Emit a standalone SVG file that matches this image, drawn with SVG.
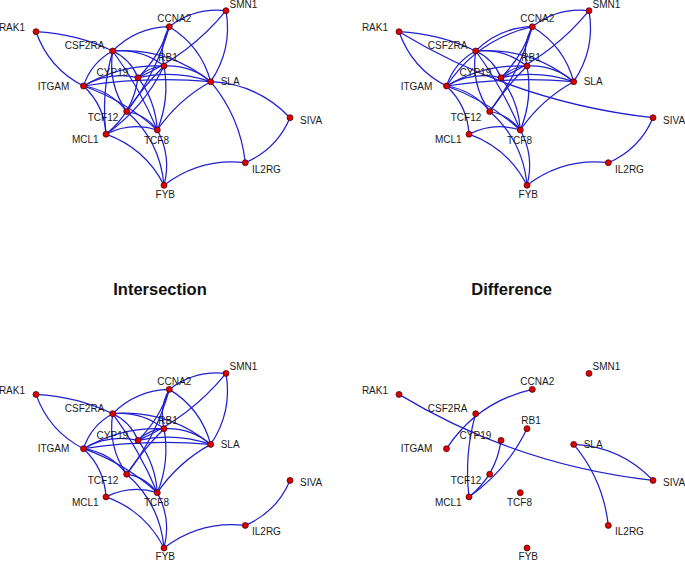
<svg xmlns="http://www.w3.org/2000/svg" width="685" height="561" viewBox="0 0 685 561">
<style>
.e{fill:none;stroke:#2020d2;stroke-width:1.25}
.n circle{fill:#dc0000;stroke:#3a0000;stroke-width:0.7}
.n text{font-family:"Liberation Sans",Arial,sans-serif;font-size:10px;fill:#1a1a1a}
.s{text-anchor:start}.m{text-anchor:middle}.x{text-anchor:end}
.t{font-family:"Liberation Sans",Arial,sans-serif;font-size:16.5px;font-weight:bold;fill:#111;text-anchor:middle}
</style>
<rect width="685" height="561" fill="#fff"/>
<text class="t" x="160" y="295">Intersection</text>
<text class="t" x="511.7" y="295">Difference</text>

<!-- Panel 1: top-left -->
<g id="panel1">
<g id="p1-connectors">
<path class="e" d="M36,31.7 Q76.3,33.7 112.7,51"/>
<path class="e" d="M83.5,86 Q48.9,68.4 36,31.7"/>
<path class="e" d="M112.7,51 Q136.1,27.5 169.3,26.7"/>
<path class="e" d="M169.3,26.7 Q194.5,7.4 226,10.7"/>
<path class="e" d="M226,10.7 Q232.6,49.3 210.7,81.7"/>
<path class="e" d="M169.3,26.7 Q201,45.9 210.7,81.7"/>
<path class="e" d="M226,10.7 Q190,54.8 138,77.7"/>
<path class="e" d="M169.3,26.7 Q159.8,56 138,77.7"/>
<path class="e" d="M164,66 Q158.8,45.3 169.3,26.7"/>
<path class="e" d="M169.3,26.7 Q156.5,73.4 126.7,111.5"/>
<path class="e" d="M112.7,51 Q167.8,46.8 210.7,81.7"/>
<path class="e" d="M112.7,51 Q141.4,48.2 164,66"/>
<path class="e" d="M164,66 Q190.5,64.5 210.7,81.7"/>
<path class="e" d="M112.7,51 Q130.7,59.3 138,77.7"/>
<path class="e" d="M83.5,86 Q91.1,62.7 112.7,51"/>
<path class="e" d="M126.7,111.5 Q107.6,84.1 112.7,51"/>
<path class="e" d="M112.7,51 Q139.7,87.8 157.3,130"/>
<path class="e" d="M138,77.7 Q148.7,66.7 164,66"/>
<path class="e" d="M138,77.7 Q174.9,69.5 210.7,81.7"/>
<path class="e" d="M83.5,86 Q109.1,71 138,77.7"/>
<path class="e" d="M83.5,86 Q120.8,63.9 164,66"/>
<path class="e" d="M83.5,86 Q146.8,76.2 210.7,81.7"/>
<path class="e" d="M83.5,86 Q110.2,90.1 126.7,111.5"/>
<path class="e" d="M83.5,86 Q124.8,100.6 157.3,130"/>
<path class="e" d="M83.5,86 Q104.4,105.6 106,134.2"/>
<path class="e" d="M126.7,111.5 Q145.7,114.6 157.3,130"/>
<path class="e" d="M126.7,111.5 Q143,86.9 164,66"/>
<path class="e" d="M164,66 Q170,99.3 157.3,130"/>
<path class="e" d="M138,77.7 Q155.5,101 157.3,130"/>
<path class="e" d="M157.3,130 Q178.2,99.5 210.7,81.7"/>
<path class="e" d="M106,134.2 Q130.8,121.8 157.3,130"/>
<path class="e" d="M106,134.2 Q145.2,148.2 164,185.3"/>
<path class="e" d="M126.7,111.5 Q160.1,140.9 164,185.3"/>
<path class="e" d="M157.3,130 Q171.7,156.3 164,185.3"/>
<path class="e" d="M164,185.3 Q200.1,157.7 245.3,162.7"/>
<path class="e" d="M290,117.7 Q276.7,149.1 245.3,162.7"/>
<path class="e" d="M210.7,81.7 Q257.6,83.8 290,117.7"/>
<path class="e" d="M210.7,81.7 Q240.2,117 245.3,162.7"/>
<path class="e" d="M106,134.2 Q101,92 112.7,51"/>
<path class="e" d="M138,77.7 Q133.3,112.4 106,134.2"/>
<path class="e" d="M164,66 Q143.9,107.6 106,134.2"/>
</g>
<g id="p1-RAK1" class="n"><circle cx="36" cy="31.7" r="3"/><text class="x" x="25" y="31.3">RAK1</text></g>
<g id="p1-SMN1" class="n"><circle cx="226" cy="10.7" r="3"/><text class="s" x="229.5" y="7.5">SMN1</text></g>
<g id="p1-CCNA2" class="n"><circle cx="169.3" cy="26.7" r="3"/><text class="m" x="174.3" y="22">CCNA2</text></g>
<g id="p1-CSF2RA" class="n"><circle cx="112.7" cy="51" r="3"/><text class="x" x="104.3" y="49.3">CSF2RA</text></g>
<g id="p1-RB1" class="n"><circle cx="164" cy="66" r="3"/><text class="m" x="168" y="61">RB1</text></g>
<g id="p1-CYP19" class="n"><circle cx="138" cy="77.7" r="3"/><text class="x" x="128.3" y="76.3">CYP19</text></g>
<g id="p1-SLA" class="n"><circle cx="210.7" cy="81.7" r="3"/><text class="s" x="220.7" y="85.3">SLA</text></g>
<g id="p1-ITGAM" class="n"><circle cx="83.5" cy="86" r="3"/><text class="x" x="69.3" y="89.6">ITGAM</text></g>
<g id="p1-TCF12" class="n"><circle cx="126.7" cy="111.5" r="3"/><text class="x" x="118.3" y="121">TCF12</text></g>
<g id="p1-SIVA" class="n"><circle cx="290" cy="117.7" r="3"/><text class="s" x="300" y="123.6">SIVA</text></g>
<g id="p1-TCF8" class="n"><circle cx="157.3" cy="130" r="3"/><text class="m" x="156.5" y="143.6">TCF8</text></g>
<g id="p1-MCL1" class="n"><circle cx="106" cy="134.2" r="3"/><text class="x" x="98.7" y="143">MCL1</text></g>
<g id="p1-IL2RG" class="n"><circle cx="245.3" cy="162.7" r="3"/><text class="s" x="252" y="172.6">IL2RG</text></g>
<g id="p1-FYB" class="n"><circle cx="164" cy="185.3" r="3"/><text class="m" x="165.3" y="197.6">FYB</text></g>
</g>

<!-- Panel 2: top-right -->
<g id="panel2" transform="translate(363,0)">
<g id="p2-connectors">
<path class="e" d="M36,31.7 Q76.3,33.7 112.7,51"/>
<path class="e" d="M83.5,86 Q48.9,68.4 36,31.7"/>
<path class="e" d="M112.7,51 Q136.1,27.5 169.3,26.7"/>
<path class="e" d="M169.3,26.7 Q194.5,7.4 226,10.7"/>
<path class="e" d="M226,10.7 Q232.6,49.3 210.7,81.7"/>
<path class="e" d="M169.3,26.7 Q201,45.9 210.7,81.7"/>
<path class="e" d="M226,10.7 Q190,54.8 138,77.7"/>
<path class="e" d="M169.3,26.7 Q159.8,56 138,77.7"/>
<path class="e" d="M164,66 Q158.8,45.3 169.3,26.7"/>
<path class="e" d="M169.3,26.7 Q156.5,73.4 126.7,111.5"/>
<path class="e" d="M112.7,51 Q167.8,46.8 210.7,81.7"/>
<path class="e" d="M112.7,51 Q141.4,48.2 164,66"/>
<path class="e" d="M164,66 Q190.5,64.5 210.7,81.7"/>
<path class="e" d="M112.7,51 Q130.7,59.3 138,77.7"/>
<path class="e" d="M83.5,86 Q91.1,62.7 112.7,51"/>
<path class="e" d="M126.7,111.5 Q107.6,84.1 112.7,51"/>
<path class="e" d="M112.7,51 Q139.7,87.8 157.3,130"/>
<path class="e" d="M138,77.7 Q148.7,66.7 164,66"/>
<path class="e" d="M138,77.7 Q174.9,69.5 210.7,81.7"/>
<path class="e" d="M83.5,86 Q109.1,71 138,77.7"/>
<path class="e" d="M83.5,86 Q120.8,63.9 164,66"/>
<path class="e" d="M83.5,86 Q146.8,76.2 210.7,81.7"/>
<path class="e" d="M83.5,86 Q110.2,90.1 126.7,111.5"/>
<path class="e" d="M83.5,86 Q124.8,100.6 157.3,130"/>
<path class="e" d="M83.5,86 Q104.4,105.6 106,134.2"/>
<path class="e" d="M126.7,111.5 Q145.7,114.6 157.3,130"/>
<path class="e" d="M126.7,111.5 Q143,86.9 164,66"/>
<path class="e" d="M164,66 Q170,99.3 157.3,130"/>
<path class="e" d="M138,77.7 Q155.5,101 157.3,130"/>
<path class="e" d="M157.3,130 Q178.2,99.5 210.7,81.7"/>
<path class="e" d="M106,134.2 Q130.8,121.8 157.3,130"/>
<path class="e" d="M106,134.2 Q145.2,148.2 164,185.3"/>
<path class="e" d="M126.7,111.5 Q160.1,140.9 164,185.3"/>
<path class="e" d="M157.3,130 Q171.7,156.3 164,185.3"/>
<path class="e" d="M164,185.3 Q200.1,157.7 245.3,162.7"/>
<path class="e" d="M290,117.7 Q276.7,149.1 245.3,162.7"/>
<path class="e" d="M290,117.7 Q153.5,102.6 36,31.7"/>
<path class="e" d="M83.5,86 Q114.5,39.2 169.3,26.7"/>
</g>
<g id="p2-RAK1" class="n"><circle cx="36" cy="31.7" r="3"/><text class="x" x="25" y="31.3">RAK1</text></g>
<g id="p2-SMN1" class="n"><circle cx="226" cy="10.7" r="3"/><text class="s" x="229.5" y="7.5">SMN1</text></g>
<g id="p2-CCNA2" class="n"><circle cx="169.3" cy="26.7" r="3"/><text class="m" x="174.3" y="22">CCNA2</text></g>
<g id="p2-CSF2RA" class="n"><circle cx="112.7" cy="51" r="3"/><text class="x" x="104.3" y="49.3">CSF2RA</text></g>
<g id="p2-RB1" class="n"><circle cx="164" cy="66" r="3"/><text class="m" x="168" y="61">RB1</text></g>
<g id="p2-CYP19" class="n"><circle cx="138" cy="77.7" r="3"/><text class="x" x="128.3" y="76.3">CYP19</text></g>
<g id="p2-SLA" class="n"><circle cx="210.7" cy="81.7" r="3"/><text class="s" x="220.7" y="85.3">SLA</text></g>
<g id="p2-ITGAM" class="n"><circle cx="83.5" cy="86" r="3"/><text class="x" x="69.3" y="89.6">ITGAM</text></g>
<g id="p2-TCF12" class="n"><circle cx="126.7" cy="111.5" r="3"/><text class="x" x="118.3" y="121">TCF12</text></g>
<g id="p2-SIVA" class="n"><circle cx="290" cy="117.7" r="3"/><text class="s" x="300" y="123.6">SIVA</text></g>
<g id="p2-TCF8" class="n"><circle cx="157.3" cy="130" r="3"/><text class="m" x="156.5" y="143.6">TCF8</text></g>
<g id="p2-MCL1" class="n"><circle cx="106" cy="134.2" r="3"/><text class="x" x="98.7" y="143">MCL1</text></g>
<g id="p2-IL2RG" class="n"><circle cx="245.3" cy="162.7" r="3"/><text class="s" x="252" y="172.6">IL2RG</text></g>
<g id="p2-FYB" class="n"><circle cx="164" cy="185.3" r="3"/><text class="m" x="165.3" y="197.6">FYB</text></g>
</g>

<!-- Panel 3: Intersection -->
<g id="panel3" transform="translate(0,362.7)">
<g id="p3-connectors">
<path class="e" d="M36,31.7 Q76.3,33.7 112.7,51"/>
<path class="e" d="M83.5,86 Q48.9,68.4 36,31.7"/>
<path class="e" d="M112.7,51 Q136.1,27.5 169.3,26.7"/>
<path class="e" d="M169.3,26.7 Q194.5,7.4 226,10.7"/>
<path class="e" d="M226,10.7 Q232.6,49.3 210.7,81.7"/>
<path class="e" d="M169.3,26.7 Q201,45.9 210.7,81.7"/>
<path class="e" d="M226,10.7 Q190,54.8 138,77.7"/>
<path class="e" d="M169.3,26.7 Q159.8,56 138,77.7"/>
<path class="e" d="M164,66 Q158.8,45.3 169.3,26.7"/>
<path class="e" d="M169.3,26.7 Q156.5,73.4 126.7,111.5"/>
<path class="e" d="M112.7,51 Q167.8,46.8 210.7,81.7"/>
<path class="e" d="M112.7,51 Q141.4,48.2 164,66"/>
<path class="e" d="M164,66 Q190.5,64.5 210.7,81.7"/>
<path class="e" d="M112.7,51 Q130.7,59.3 138,77.7"/>
<path class="e" d="M83.5,86 Q91.1,62.7 112.7,51"/>
<path class="e" d="M126.7,111.5 Q107.6,84.1 112.7,51"/>
<path class="e" d="M112.7,51 Q139.7,87.8 157.3,130"/>
<path class="e" d="M138,77.7 Q148.7,66.7 164,66"/>
<path class="e" d="M138,77.7 Q174.9,69.5 210.7,81.7"/>
<path class="e" d="M83.5,86 Q109.1,71 138,77.7"/>
<path class="e" d="M83.5,86 Q120.8,63.9 164,66"/>
<path class="e" d="M83.5,86 Q146.8,76.2 210.7,81.7"/>
<path class="e" d="M83.5,86 Q110.2,90.1 126.7,111.5"/>
<path class="e" d="M83.5,86 Q124.8,100.6 157.3,130"/>
<path class="e" d="M83.5,86 Q104.4,105.6 106,134.2"/>
<path class="e" d="M126.7,111.5 Q145.7,114.6 157.3,130"/>
<path class="e" d="M126.7,111.5 Q143,86.9 164,66"/>
<path class="e" d="M164,66 Q170,99.3 157.3,130"/>
<path class="e" d="M138,77.7 Q155.5,101 157.3,130"/>
<path class="e" d="M157.3,130 Q178.2,99.5 210.7,81.7"/>
<path class="e" d="M106,134.2 Q130.8,121.8 157.3,130"/>
<path class="e" d="M106,134.2 Q145.2,148.2 164,185.3"/>
<path class="e" d="M126.7,111.5 Q160.1,140.9 164,185.3"/>
<path class="e" d="M157.3,130 Q171.7,156.3 164,185.3"/>
<path class="e" d="M164,185.3 Q200.1,157.7 245.3,162.7"/>
<path class="e" d="M290,117.7 Q276.7,149.1 245.3,162.7"/>
</g>
<g id="p3-RAK1" class="n"><circle cx="36" cy="31.7" r="3"/><text class="x" x="25" y="31.3">RAK1</text></g>
<g id="p3-SMN1" class="n"><circle cx="226" cy="10.7" r="3"/><text class="s" x="229.5" y="7.5">SMN1</text></g>
<g id="p3-CCNA2" class="n"><circle cx="169.3" cy="26.7" r="3"/><text class="m" x="174.3" y="22">CCNA2</text></g>
<g id="p3-CSF2RA" class="n"><circle cx="112.7" cy="51" r="3"/><text class="x" x="104.3" y="49.3">CSF2RA</text></g>
<g id="p3-RB1" class="n"><circle cx="164" cy="66" r="3"/><text class="m" x="168" y="61">RB1</text></g>
<g id="p3-CYP19" class="n"><circle cx="138" cy="77.7" r="3"/><text class="x" x="128.3" y="76.3">CYP19</text></g>
<g id="p3-SLA" class="n"><circle cx="210.7" cy="81.7" r="3"/><text class="s" x="220.7" y="85.3">SLA</text></g>
<g id="p3-ITGAM" class="n"><circle cx="83.5" cy="86" r="3"/><text class="x" x="69.3" y="89.6">ITGAM</text></g>
<g id="p3-TCF12" class="n"><circle cx="126.7" cy="111.5" r="3"/><text class="x" x="118.3" y="121">TCF12</text></g>
<g id="p3-SIVA" class="n"><circle cx="290" cy="117.7" r="3"/><text class="s" x="300" y="123.6">SIVA</text></g>
<g id="p3-TCF8" class="n"><circle cx="157.3" cy="130" r="3"/><text class="m" x="156.5" y="143.6">TCF8</text></g>
<g id="p3-MCL1" class="n"><circle cx="106" cy="134.2" r="3"/><text class="x" x="98.7" y="143">MCL1</text></g>
<g id="p3-IL2RG" class="n"><circle cx="245.3" cy="162.7" r="3"/><text class="s" x="252" y="172.6">IL2RG</text></g>
<g id="p3-FYB" class="n"><circle cx="164" cy="185.3" r="3"/><text class="m" x="165.3" y="197.6">FYB</text></g>
</g>

<!-- Panel 4: Difference -->
<g id="panel4" transform="translate(363,362.7)">
<g id="p4-connectors">
<path class="e" d="M210.7,81.7 Q257.6,83.8 290,117.7"/>
<path class="e" d="M210.7,81.7 Q240.2,117 245.3,162.7"/>
<path class="e" d="M106,134.2 Q101,92 112.7,51"/>
<path class="e" d="M138,77.7 Q133.3,112.4 106,134.2"/>
<path class="e" d="M164,66 Q143.9,107.6 106,134.2"/>
<path class="e" d="M290,117.7 Q153.5,102.6 36,31.7"/>
<path class="e" d="M83.5,86 Q114.5,39.2 169.3,26.7"/>
</g>
<g id="p4-RAK1" class="n"><circle cx="36" cy="31.7" r="3"/><text class="x" x="25" y="31.3">RAK1</text></g>
<g id="p4-SMN1" class="n"><circle cx="226" cy="10.7" r="3"/><text class="s" x="229.5" y="7.5">SMN1</text></g>
<g id="p4-CCNA2" class="n"><circle cx="169.3" cy="26.7" r="3"/><text class="m" x="174.3" y="22">CCNA2</text></g>
<g id="p4-CSF2RA" class="n"><circle cx="112.7" cy="51" r="3"/><text class="x" x="104.3" y="49.3">CSF2RA</text></g>
<g id="p4-RB1" class="n"><circle cx="164" cy="66" r="3"/><text class="m" x="168" y="61">RB1</text></g>
<g id="p4-CYP19" class="n"><circle cx="138" cy="77.7" r="3"/><text class="x" x="128.3" y="76.3">CYP19</text></g>
<g id="p4-SLA" class="n"><circle cx="210.7" cy="81.7" r="3"/><text class="s" x="220.7" y="85.3">SLA</text></g>
<g id="p4-ITGAM" class="n"><circle cx="83.5" cy="86" r="3"/><text class="x" x="69.3" y="89.6">ITGAM</text></g>
<g id="p4-TCF12" class="n"><circle cx="126.7" cy="111.5" r="3"/><text class="x" x="118.3" y="121">TCF12</text></g>
<g id="p4-SIVA" class="n"><circle cx="290" cy="117.7" r="3"/><text class="s" x="300" y="123.6">SIVA</text></g>
<g id="p4-TCF8" class="n"><circle cx="157.3" cy="130" r="3"/><text class="m" x="156.5" y="143.6">TCF8</text></g>
<g id="p4-MCL1" class="n"><circle cx="106" cy="134.2" r="3"/><text class="x" x="98.7" y="143">MCL1</text></g>
<g id="p4-IL2RG" class="n"><circle cx="245.3" cy="162.7" r="3"/><text class="s" x="252" y="172.6">IL2RG</text></g>
<g id="p4-FYB" class="n"><circle cx="164" cy="185.3" r="3"/><text class="m" x="165.3" y="197.6">FYB</text></g>
</g>
</svg>
